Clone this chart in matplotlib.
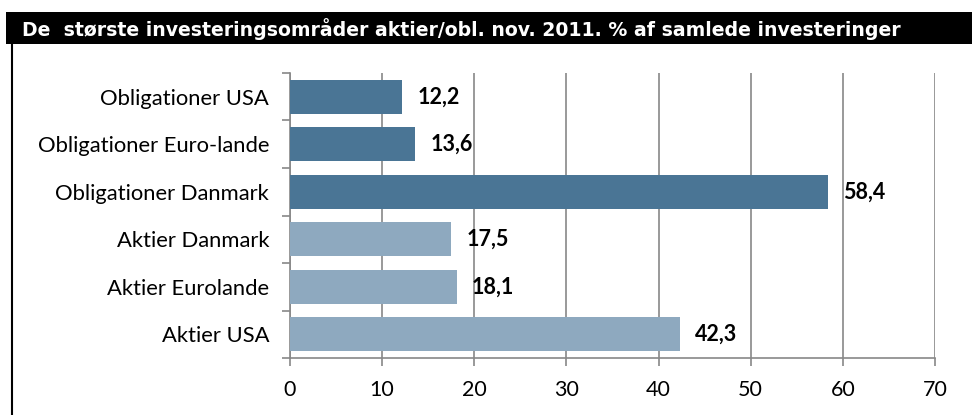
import matplotlib
matplotlib.use("Agg")
import matplotlib.pyplot as plt
from matplotlib.patches import Rectangle
from matplotlib.lines import Line2D

title = "De  største investeringsområder aktier/obl. nov. 2011. % af samlede investeringer"
categories = ["Aktier USA", "Aktier Eurolande", "Aktier Danmark",
              "Obligationer Danmark", "Obligationer Euro-lande", "Obligationer USA"]
values = [42.3, 18.1, 17.5, 58.4, 13.6, 12.2]
labels = ["42,3", "18,1", "17,5", "58,4", "13,6", "12,2"]
colors = ["#8EA9BF", "#8EA9BF", "#8EA9BF", "#4A7595", "#4A7595", "#4A7595"]
xticks = [0, 10, 20, 30, 40, 50, 60, 70]

W, H = 972, 415
fig = plt.figure(figsize=(W / 100, H / 100), dpi=100)
fig.patch.set_facecolor("white")

# title band
fig.patches.append(Rectangle((6 / W, 1 - 44 / H), 1 - 6 / W, 32 / H,
                             transform=fig.transFigure, facecolor="black",
                             edgecolor="none", zorder=0))
fig.text(22 / W, 1 - 29 / H, title, color="white", fontsize=13.6,
         fontweight="bold", family="DejaVu Sans", va="center", ha="left")
# left border
fig.lines.append(Line2D([11.5 / W, 11.5 / W], [0, 1 - 44 / H],
                        transform=fig.transFigure, color="black", lw=1.5))

ax = fig.add_axes([290 / W, 1 - 358 / H, 645 / W, 285 / H])
y = list(range(len(categories)))
ax.barh(y, values, height=0.72, color=colors, zorder=3)
for yi, v, lab in zip(y, values, labels):
    ax.annotate(lab, (v, yi), xytext=(11, 0), textcoords="offset points",
                va="center", ha="left", fontsize=15.5, fontweight="bold",
                family="Lato", color="black")

ax.set_xlim(0, 70)
ax.set_ylim(-0.5, len(categories) - 0.5)
ax.set_xticks(xticks)
ax.set_xticklabels([str(t) for t in xticks], family="Lato", fontsize=15.5)
ax.set_yticks(y)
ax.set_yticklabels(categories, family="Lato", fontsize=15.8)
ax.tick_params(axis="y", length=0, pad=15)
ax.set_yticks([i - 0.5 for i in range(len(categories) + 1)], minor=True)
ax.tick_params(axis="y", which="minor", length=6, color="#888888", width=1.2)
ax.tick_params(axis="x", length=6, color="#888888", width=1.2, pad=10)
ax.xaxis.grid(True, color="#888888", lw=1.2, zorder=0)
ax.set_axisbelow(True)
for s in ["top", "right"]:
    ax.spines[s].set_visible(False)
for s in ["left", "bottom"]:
    ax.spines[s].set_color("#888888")
    ax.spines[s].set_linewidth(1.2)

fig.savefig("out.png", dpi=100)
